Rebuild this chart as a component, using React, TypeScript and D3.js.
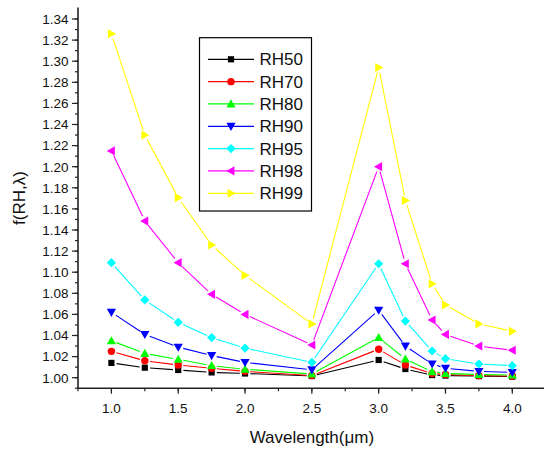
import React from "react";
import * as d3 from "d3";

const wavelengths = [1.0, 1.25, 1.5, 1.75, 2.0, 2.5, 3.0, 3.2, 3.4, 3.5, 3.75, 4.0];
const seriesNames = ["RH50", "RH70", "RH80", "RH90", "RH95", "RH98", "RH99"];
const rh50 = [1.014, 1.0095, 1.0073, 1.005, 1.004, 1.0016, 1.0168, 1.0082, 1.0025, 1.002, 1.0015, 1.001];
const rh70 = [1.025, 1.016, 1.012, 1.009, 1.006, 1.002, 1.027, 1.012, 1.004, 1.003, 1.002, 1.0015];
const rh80 = [1.035, 1.023, 1.0174, 1.0114, 1.008, 1.0035, 1.038, 1.0177, 1.0057, 1.004, 1.003, 1.0025];
const rh90 = [1.062, 1.041, 1.029, 1.021, 1.0145, 1.0075, 1.064, 1.03, 1.013, 1.009, 1.006, 1.005];
const rh95 = [1.109, 1.0737, 1.0525, 1.038, 1.028, 1.0146, 1.108, 1.0537, 1.0253, 1.018, 1.013, 1.0114];
const rh98 = [1.215, 1.1485, 1.109, 1.079, 1.06, 1.031, 1.2, 1.108, 1.0547, 1.041, 1.03, 1.026];
const rh99 = [1.326, 1.23, 1.1706, 1.1258, 1.097, 1.051, 1.294, 1.168, 1.089, 1.069, 1.051, 1.044];
const seriesValues = [rh50, rh70, rh80, rh90, rh95, rh98, rh99];
const colors = ["#000000", "#ff0000", "#00ff00", "#0000ff", "#00ffff", "#ff00ff", "#ffff00"];
const markerKinds = ["square", "circle", "up", "down", "diamond", "left", "right"];
const xTicks = [1.0, 1.5, 2.0, 2.5, 3.0, 3.5, 4.0];
const yTicks = d3.range(0, 18).map((i) => 1.0 + i * 0.02);

const W = 544;
const H = 449;
const left = 78;
const right = 545.7;
const top = 8.45;
const bottom = 388.25;

function markerPath(kind: string, x: number, y: number): string {
  const s = 4.6;
  switch (kind) {
    case "square":
      return `M${x - 3.1},${y - 3.1}h6.2v6.2h-6.2Z`;
    case "circle":
      return `M${x - 3.7},${y}a3.7,3.7 0 1,0 7.4,0a3.7,3.7 0 1,0 -7.4,0Z`;
    case "up":
      return `M${x},${y - s}L${x + s},${y + s * 0.75}L${x - s},${y + s * 0.75}Z`;
    case "down":
      return `M${x},${y + s}L${x + s},${y - s * 0.75}L${x - s},${y - s * 0.75}Z`;
    case "diamond":
      return `M${x},${y - s}L${x + s},${y}L${x},${y + s}L${x - s},${y}Z`;
    case "left":
      return `M${x - s},${y}L${x + s * 0.75},${y - s}L${x + s * 0.75},${y + s}Z`;
    case "right":
      return `M${x + s},${y}L${x - s * 0.75},${y - s}L${x - s * 0.75},${y + s}Z`;
  }
  return "";
}

export default function App() {
  const x = d3.scaleLinear().domain([0.75, 4.25]).range([left, right]);
  const y = d3.scaleLinear().domain([0.99, 1.35]).range([bottom, top]);
  const xMinor = d3.range(0, 14).map((i) => 0.75 + i * 0.25);
  const yMinor = d3.range(0, 36).map((i) => 0.99 + i * 0.01);
  const font = "Liberation Sans, Arial, sans-serif";
  const axisY = y(0.99);
  const gap = 5.2;

  const segments = (vals: number[]) => {
    const out: string[] = [];
    for (let i = 0; i < vals.length - 1; i++) {
      const x1 = x(wavelengths[i]);
      const y1 = y(vals[i]);
      const x2 = x(wavelengths[i + 1]);
      const y2 = y(vals[i + 1]);
      const len = Math.hypot(x2 - x1, y2 - y1);
      if (len <= 2 * gap) continue;
      const ux = (x2 - x1) / len;
      const uy = (y2 - y1) / len;
      out.push(`M${x1 + ux * gap},${y1 + uy * gap}L${x2 - ux * gap},${y2 - uy * gap}`);
    }
    return out.join("");
  };

  const legendX = 199.5;
  const legendY = 37.7;
  const rowH = 22.33;

  return (
    <svg
      width={W}
      height={H}
      style={{ position: "absolute", left: 0, top: 0, background: "#fff" }}
      fontFamily={font}
    >
      <rect x={0} y={0} width={W} height={H} fill="#fff" />
      {seriesValues.map((vals, si) => (
        <path key={"l" + si} d={segments(vals)} fill="none" stroke={colors[si]} strokeWidth={1.1} />
      ))}
      {seriesValues.map((vals, si) =>
        vals.map((v, i) => (
          <path key={"m" + si + "_" + i} d={markerPath(markerKinds[si], x(wavelengths[i]), y(v))} fill={colors[si]} />
        ))
      )}
      {/* axes */}
      <line x1={left} x2={W} y1={axisY} y2={axisY} stroke="#222" strokeWidth={1.6} />
      <line x1={left} x2={left} y1={top - 1} y2={axisY} stroke="#222" strokeWidth={1.6} />
      {xMinor.map((t, i) => (
        <line key={"xm" + i} x1={x(t)} x2={x(t)} y1={axisY} y2={axisY + 3} stroke="#222" strokeWidth={1.2} />
      ))}
      {xTicks.map((t, i) => (
        <g key={"xt" + i}>
          <line x1={x(t)} x2={x(t)} y1={axisY} y2={axisY + 5.5} stroke="#222" strokeWidth={1.2} />
          <text x={x(t)} y={413} textAnchor="middle" fontSize={13.5} fill="#111">
            {t.toFixed(1)}
          </text>
        </g>
      ))}
      {yMinor.map((t, i) => (
        <line key={"ym" + i} x1={left - 3} x2={left} y1={y(t)} y2={y(t)} stroke="#222" strokeWidth={1.2} />
      ))}
      {yTicks.map((t, i) => (
        <g key={"yt" + i}>
          <line x1={left - 6} x2={left} y1={y(t)} y2={y(t)} stroke="#222" strokeWidth={1.2} />
          <text x={68.5} y={y(t)} dy="0.36em" textAnchor="end" fontSize={13.5} fill="#111">
            {t.toFixed(2)}
          </text>
        </g>
      ))}
      <text x={(left + right) / 2} y={443} textAnchor="middle" fontSize={17} fill="#111">
        Wavelength(μm)
      </text>
      <text transform={`translate(25,198) rotate(-90)`} textAnchor="middle" fontSize={17} fill="#111">
        f(RH,λ)
      </text>
      {/* legend */}
      <rect x={legendX} y={legendY} width={112} height={173.3} fill="#fff" stroke="#000" strokeWidth={1.2} />
      {seriesNames.map((name, si) => {
        const ry = legendY + 21.6 + si * rowH;
        return (
          <g key={"lg" + si}>
            <line x1={208} x2={254} y1={ry} y2={ry} stroke={colors[si]} strokeWidth={1.3} />
            <path d={markerPath(markerKinds[si], 231, ry)} fill={colors[si]} />
            <text x={259.5} y={ry} dy="0.36em" fontSize={17} fill="#111">
              {name}
            </text>
          </g>
        );
      })}
    </svg>
  );
}
